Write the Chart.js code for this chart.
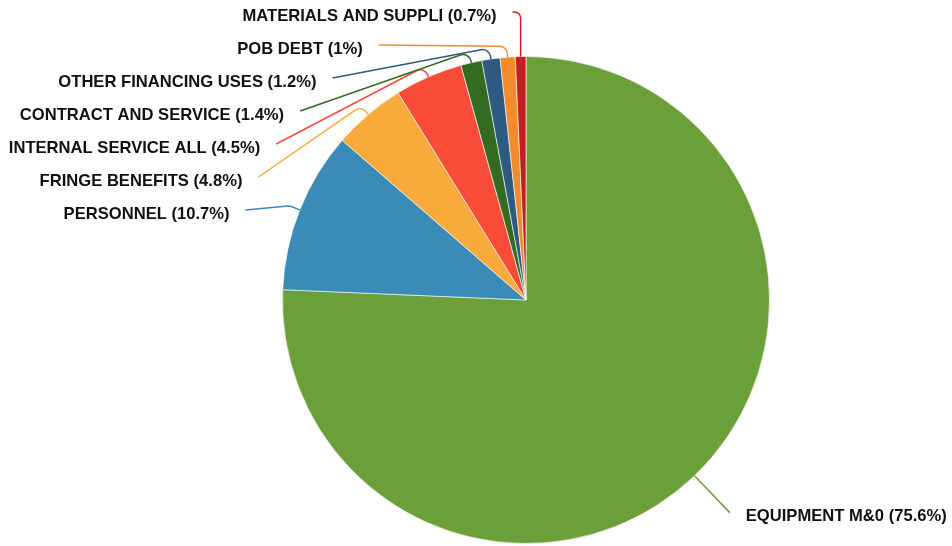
<!DOCTYPE html>
<html>
<head>
<meta charset="utf-8">
<script src="https://cdn.jsdelivr.net/npm/chart.js@4"></script>
<style>
  html, body { margin: 0; padding: 0; background: #fff; }
  #wrap { width: 952px; height: 546px; position: relative; }
</style>
</head>
<body>
<div id="wrap"><canvas id="c" width="952" height="546"></canvas></div>
<script>
const categories = [
  "EQUIPMENT M&0",
  "PERSONNEL",
  "FRINGE BENEFITS",
  "INTERNAL SERVICE ALL",
  "CONTRACT AND SERVICE",
  "OTHER FINANCING USES",
  "POB DEBT",
  "MATERIALS AND SUPPLI"
];
const shares = [75.6, 10.7, 4.8, 4.5, 1.4, 1.2, 1, 0.7];
const sliceColors = [
  "#6a9f3a", "#3b8bb8", "#f8aa3a", "#f84b38",
  "#346b22", "#2c5a80", "#f28b2c", "#c0201f"
];

const labelPlugin = {
  id: "outerLabels",
  afterDraw(chart) {
    const ctx = chart.ctx;
    const meta = chart.getDatasetMeta(0);
    const items = [];
    const arcs = meta.data;
    if (!arcs.length) return;
    const cx = arcs[0].x, cy = arcs[0].y, r = arcs[0].outerRadius;
    const R = r + 51, bendR = r + 11, gap = 33, minY = 12, textGap = 16;
    arcs.forEach((arc, i) => {
      const a = (arc.startAngle + arc.endAngle) / 2;
      items.push({
        i, a,
        right: Math.cos(a) >= 0,
        ny: cy + R * Math.sin(a),
        ex: cx + r * Math.cos(a), ey: cy + r * Math.sin(a),
        bx: cx + bendR * Math.cos(a), by: cy + bendR * Math.sin(a)
      });
    });
    [true, false].forEach(side => {
      const group = items.filter(it => it.right === side).sort((p, q) => p.ny - q.ny);
      let prev = -Infinity;
      group.forEach(it => {
        const ys = Math.max(it.ny, prev + gap);
        it.clamped = ys < minY;
        it.ly = Math.max(ys, minY);
        prev = it.ly;
        const dy = ys - cy;
        const dx = Math.sqrt(Math.max(R * R - dy * dy, 0));
        it.lx = side ? cx + dx : cx - dx;
        if (it.clamped) {
          it.lx = side ? it.ex + 8 : it.ex - 8;
          it.bx = it.ex; it.by = it.ly;
        }
      });
    });
    ctx.save();
    items.forEach(it => {
      const col = sliceColors[it.i];
      ctx.strokeStyle = col;
      ctx.lineWidth = 1.5;
      ctx.beginPath();
      ctx.moveTo(it.ex, it.ey);
      ctx.arcTo(it.bx, it.by, it.lx, it.ly, it.clamped ? 6 : 8);
      ctx.lineTo(it.lx, it.ly);
      ctx.stroke();
      ctx.fillStyle = "#111";
      ctx.font = "bold 16.6px 'Liberation Sans', Arial, sans-serif";
      ctx.textBaseline = "alphabetic";
      const txt = categories[it.i] + " (" + shares[it.i] + "%)";
      if (it.right) {
        ctx.textAlign = "left";
        ctx.fillText(txt, it.lx + textGap, it.ly + 8);
      } else {
        ctx.textAlign = "right";
        ctx.fillText(txt, it.lx - textGap, it.ly + 9);
      }
    });
    ctx.restore();
  }
};

new Chart(document.getElementById("c"), {
  type: "pie",
  data: {
    labels: categories,
    datasets: [{
      data: shares,
      backgroundColor: sliceColors,
      borderColor: "rgba(255,255,255,0.6)",
      borderWidth: 1
    }]
  },
  options: {
    responsive: false,
    animation: false,
    layout: { padding: { top: 56, bottom: 2, left: 282, right: 182 } },
    plugins: { legend: { display: false }, tooltip: { enabled: false } }
  },
  plugins: [labelPlugin]
});
</script>
</body>
</html>
